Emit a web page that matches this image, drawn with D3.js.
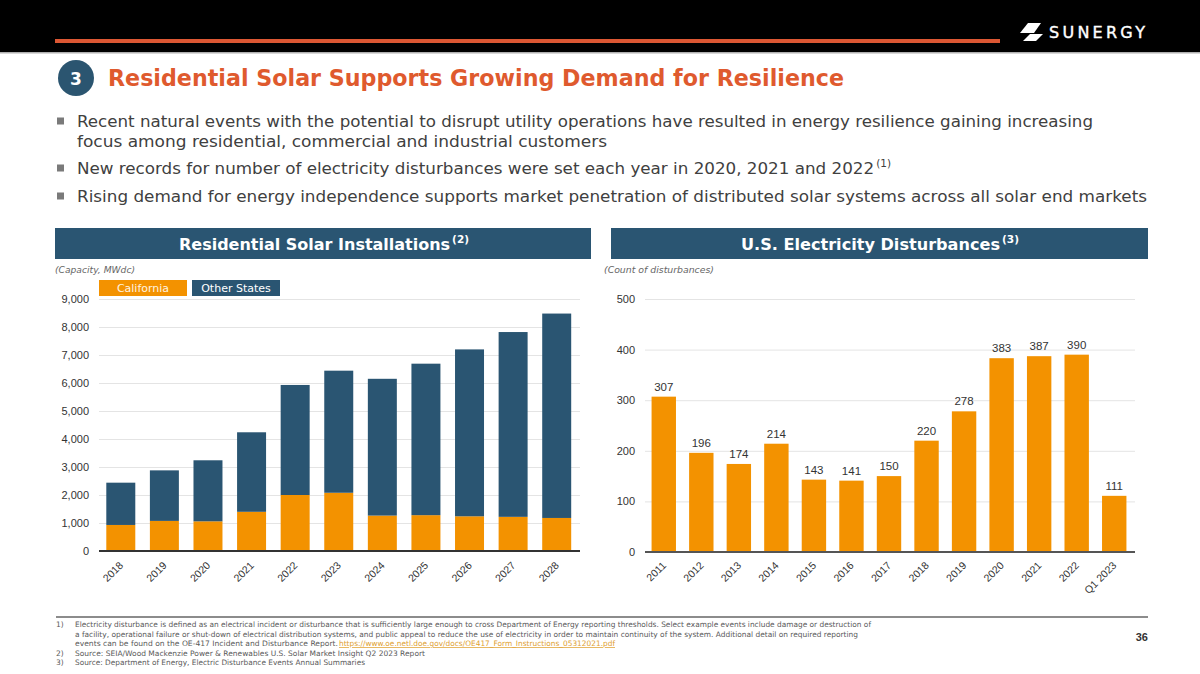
<!DOCTYPE html>
<html><head><meta charset="utf-8">
<script src="https://cdn.jsdelivr.net/npm/d3@7"></script>
<style>body{margin:0;background:#fff}svg{display:block}</style>
</head><body>
<svg id="c" width="1200" height="674"></svg>
<script>
// ---------- DATA ----------
const installYears = ["2018","2019","2020","2021","2022","2023","2024","2025","2026","2027","2028"];
const californiaMW = [930,1075,1060,1400,2000,2080,1265,1280,1240,1220,1180];
const otherStatesMW = [1510,1805,2180,2840,3930,4360,4885,5410,5960,6600,7300];
const installTicks = [0,1000,2000,3000,4000,5000,6000,7000,8000,9000];
const installSeries = ["California","Other States"];

const disturbanceYears = ["2011","2012","2013","2014","2015","2016","2017","2018","2019","2020","2021","2022","Q1 2023"];
const disturbanceCounts = [307,196,174,214,143,141,150,220,278,383,387,390,111];
const disturbanceTicks = [0,100,200,300,400,500];

const bulletLines = [
  "Recent natural events with the potential to disrupt utility operations have resulted in energy resilience gaining increasing",
  "focus among residential, commercial and industrial customers",
  "New records for number of electricity disturbances were set each year in 2020, 2021 and 2022",
  "Rising demand for energy independence supports market penetration of distributed solar systems across all solar end markets"
];
const bulletSups = ["","","(1)",""];
const footnoteLines = [
  "Electricity disturbance is defined as an electrical incident or disturbance that is sufficiently large enough to cross Department of Energy reporting thresholds. Select example events include damage or destruction of",
  "a facility, operational failure or shut-down of electrical distribution systems,  and public appeal to reduce the use of electricity in order to maintain continuity of the system.   Additional detail on required reporting",
  "events can be found on the OE-417 Incident and Disturbance Report. ",
  "Source:  SEIA/Wood Mackenzie Power & Renewables U.S. Solar Market Insight Q2 2023 Report",
  "Source: Department of Energy, Electric Disturbance Events Annual Summaries"
];
const footnoteLink = "https://www.oe.netl.doe.gov/docs/OE417_Form_Instructions_05312021.pdf";

// ---------- STYLE ----------
const ORANGE = "#F39200", TEAL = "#2A5572", RED = "#DF5A2E";
const TXT = "DejaVu Sans, sans-serif", NUM = "Liberation Sans, Arial, sans-serif";
const svg = d3.select("#c");
svg.append("rect").attr("width",1200).attr("height",674).attr("fill","#fff");

// text with optional superscript, in ONE text element
function supText(x,y,main,sup,size,supSize,width,fill,weight){
  const t = svg.append("text").attr("x",x).attr("y",y).attr("fill",fill)
    .attr("font-family",TXT).attr("font-size",size).attr("font-weight",weight||"normal")
    .attr("textLength",width).attr("lengthAdjust","spacingAndGlyphs");
  t.append("tspan").text(main);
  if (sup) t.append("tspan").attr("dx",2).attr("dy",-Math.round(size*0.42)).attr("font-size",supSize).text(sup);
  return t;
}

// ---------- HEADER ----------
svg.append("rect").attr("width",1200).attr("height",52).attr("fill","#000");
svg.append("rect").attr("y",52).attr("width",1200).attr("height",1.5).attr("fill","#b0b0b0");
svg.append("rect").attr("x",55).attr("y",39).attr("width",945).attr("height",4).attr("fill","#DC5733");
svg.append("path").attr("d","M1028,23 L1041,23 L1034,33 L1020,33 Z").attr("fill","#fff");
svg.append("path").attr("d","M1030,34 L1043,34 L1036,41 L1023,41 Z").attr("fill","#fff");
svg.append("text").attr("x",1049).attr("y",37.5).attr("fill","#fff").attr("stroke","#fff").attr("stroke-width",0.4)
  .attr("font-family",TXT).attr("font-size",16)
  .attr("textLength",96).attr("lengthAdjust","spacing").text("SUNERGY");

// Title
svg.append("circle").attr("cx",76).attr("cy",78).attr("r",18).attr("fill","#2B5570");
svg.append("text").attr("x",76).attr("y",84.5).attr("text-anchor","middle").attr("fill","#fff")
  .attr("font-family",TXT).attr("font-weight","bold").attr("font-size",17).text("3");
svg.append("text").attr("x",108).attr("y",86).attr("fill",RED)
  .attr("font-family",TXT).attr("font-weight","bold").attr("font-size",23)
  .attr("textLength",736).attr("lengthAdjust","spacingAndGlyphs")
  .text("Residential Solar Supports Growing Demand for Resilience");

// Bullets
const bulletY = [127,147,174,202];
const bulletW = [1016,530,814,1070];
const bulletMark = [true,false,true,true];
bulletLines.forEach((t,i)=>{
  if (bulletMark[i]) svg.append("rect").attr("x",57).attr("y",bulletY[i]-9.5).attr("width",7).attr("height",7).attr("fill","#7a7a7a");
  supText(77,bulletY[i],t,bulletSups[i],16,10,bulletW[i],"#404040");
});

// ---------- PANEL HEADERS ----------
function panelHeader(x0,x1,main,sup,start,w){
  svg.append("rect").attr("x",x0).attr("y",228).attr("width",x1-x0).attr("height",31).attr("fill",TEAL);
  supText(start,249.5,main,sup,16,10.5,w,"#fff","bold");
}
panelHeader(55,591,"Residential Solar Installations","(2)",179,290);
panelHeader(611,1148,"U.S. Electricity Disturbances","(3)",741,278);

svg.append("text").attr("x",55).attr("y",273).attr("fill","#666").attr("font-style","italic")
  .attr("font-family",TXT).attr("font-size",9).attr("textLength",80).attr("lengthAdjust","spacingAndGlyphs").text("(Capacity, MWdc)");
svg.append("text").attr("x",604).attr("y",273).attr("fill","#666").attr("font-style","italic")
  .attr("font-family",TXT).attr("font-size",9).attr("textLength",110).attr("lengthAdjust","spacingAndGlyphs").text("(Count of disturbances)");

// Legend
const legendX = [99,192], legendFill=[ORANGE,TEAL], legendTxt=["#fff4e0","#fff"];
installSeries.forEach((s,i)=>{
  svg.append("rect").attr("x",legendX[i]).attr("y",280).attr("width",88).attr("height",16).attr("fill",legendFill[i]);
  svg.append("text").attr("x",legendX[i]+44).attr("y",292).attr("text-anchor","middle").attr("fill",legendTxt[i])
    .attr("font-family",TXT).attr("font-size",11).text(s);
});

// ---------- LEFT CHART ----------
const xL = d3.scaleBand().domain(installYears).range([99,578.5]).paddingInner(0.335).paddingOuter(0.1675);
const yL = d3.scaleLinear().domain([0,9000]).range([551,299]);
const gYL = svg.append("g").attr("transform","translate(99,0)")
  .call(d3.axisLeft(yL).tickValues(installTicks).tickFormat(d3.format(",")).tickSize(-481).tickPadding(10));
gYL.select(".domain").remove();
gYL.selectAll("line").attr("stroke","#e4e4e4");
gYL.selectAll("text").attr("font-family",NUM).attr("font-size",11).attr("fill","#333");

const rowsL = installYears.map((y,i)=>({year:y, California:californiaMW[i], "Other States":otherStatesMW[i]}));
const stackL = d3.stack().keys(installSeries)(rowsL);
svg.append("g").selectAll("g").data(stackL).join("g").attr("fill",(d,i)=>legendFill[i])
  .selectAll("rect").data(d=>d).join("rect")
  .attr("x",d=>xL(d.data.year)).attr("width",xL.bandwidth())
  .attr("y",d=>yL(d[1])).attr("height",d=>yL(d[0])-yL(d[1]));
svg.append("line").attr("x1",99).attr("x2",580).attr("y1",yL(0)).attr("y2",yL(0)).attr("stroke","#333").attr("stroke-width",2);

const gXL = svg.append("g").attr("transform",`translate(0,${yL(0)})`).call(d3.axisBottom(xL).tickSize(0));
gXL.select(".domain").remove();
gXL.selectAll("text").attr("x",0).attr("y",0).attr("dy",0).attr("transform","translate(3,15) rotate(-45)")
  .style("text-anchor","end").attr("font-family",NUM).attr("font-size",10.5).attr("fill","#333");

// ---------- RIGHT CHART ----------
const xR = d3.scaleBand().domain(disturbanceYears).range([645,1133]).paddingInner(0.35).paddingOuter(0.175);
const yR = d3.scaleLinear().domain([0,500]).range([552,299]);
const gYR = svg.append("g").attr("transform","translate(645,0)")
  .call(d3.axisLeft(yR).tickValues(disturbanceTicks).tickSize(-490).tickPadding(10));
gYR.select(".domain").remove();
gYR.selectAll("line").attr("stroke","#e4e4e4");
gYR.selectAll("text").attr("font-family",NUM).attr("font-size",11).attr("fill","#333");

svg.append("g").selectAll("rect").data(disturbanceCounts).join("rect")
  .attr("x",(d,i)=>xR(disturbanceYears[i])).attr("width",xR.bandwidth())
  .attr("y",d=>yR(d)).attr("height",d=>yR(0)-yR(d)).attr("fill",ORANGE);
svg.append("g").selectAll("text").data(disturbanceCounts).join("text")
  .attr("x",(d,i)=>xR(disturbanceYears[i])+xR.bandwidth()/2).attr("y",d=>yR(d)-6)
  .attr("text-anchor","middle").attr("font-family",NUM).attr("font-size",11.5).attr("fill","#333").text(d=>d);
svg.append("line").attr("x1",645).attr("x2",1135).attr("y1",yR(0)).attr("y2",yR(0)).attr("stroke","#555").attr("stroke-width",2);

const gXR = svg.append("g").attr("transform",`translate(0,${yR(0)})`).call(d3.axisBottom(xR).tickSize(0));
gXR.select(".domain").remove();
gXR.selectAll("text").attr("x",0).attr("y",0).attr("dy",0).attr("transform","translate(3,14) rotate(-45)")
  .style("text-anchor","end").attr("font-family",NUM).attr("font-size",10.5).attr("fill","#333");

// ---------- FOOTNOTES ----------
svg.append("line").attr("x1",56).attr("x2",1148).attr("y1",617).attr("y2",617).attr("stroke","#8c8c8c").attr("stroke-width",2);
const fnY = [627,636.5,646,655.5,665];
const fnW = [796,783,263,350,290];
const fnNum = ["1)","","","2)","3)"];
footnoteLines.forEach((t,i)=>{
  if (fnNum[i]) svg.append("text").attr("x",56).attr("y",fnY[i]).attr("fill","#595959").attr("font-family",TXT).attr("font-size",7.5).text(fnNum[i]);
  svg.append("text").attr("x",75).attr("y",fnY[i]).attr("fill","#595959").attr("font-family",TXT).attr("font-size",7.5)
    .attr("textLength",fnW[i]).attr("lengthAdjust","spacingAndGlyphs").text(t);
});
svg.append("text").attr("x",339).attr("y",fnY[2]).attr("fill","#E0A030").attr("font-family",TXT).attr("font-size",7.5)
  .attr("text-decoration","underline").attr("textLength",276).attr("lengthAdjust","spacingAndGlyphs").text(footnoteLink);
svg.append("text").attr("x",1148).attr("y",641).attr("text-anchor","end").attr("fill","#333")
  .attr("font-family",NUM).attr("font-weight","bold").attr("font-size",11).text("36");
</script>
</body></html>
